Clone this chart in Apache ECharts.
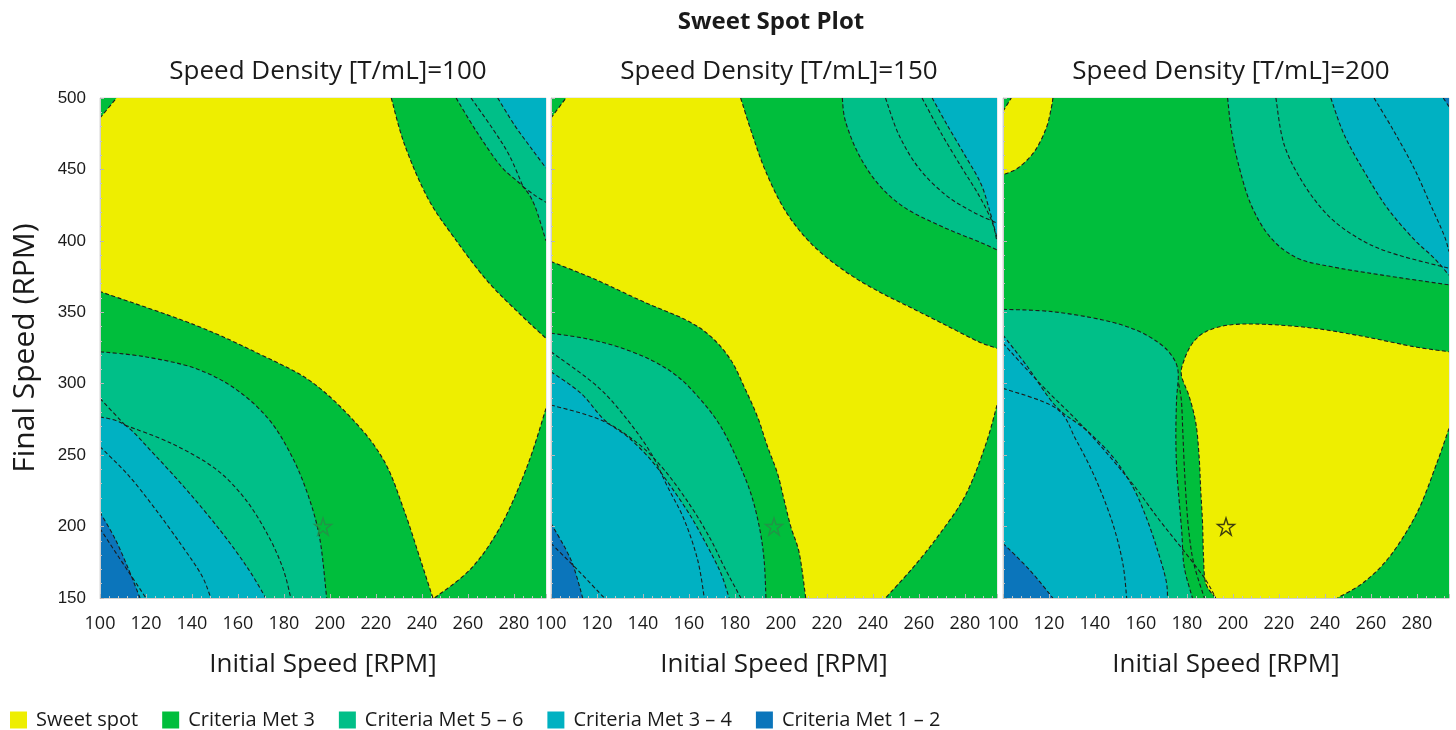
<!DOCTYPE html>
<html>
<head>
<meta charset="utf-8">
<title>Sweet Spot Plot</title>
<script src="https://cdn.jsdelivr.net/npm/echarts@6.0.0/dist/echarts.min.js"></script>
<style>
  html, body { margin: 0; padding: 0; background: #fff; }
  #chart { width: 1456px; height: 730px; }
</style>
</head>
<body>
<div id="chart"></div>
<script>
// axis ranges
const X_MIN = 100, X_MAX = 294, Y_MIN = 150, Y_MAX = 500;
const densities = [100, 150, 200];
const starPoint = [197, 200];

// each region = list of boundary pieces [x, y]; pieces with 2+ points are smooth contour runs,
// consecutive pieces are joined by straight edges along the plot border
const fullDomain = [[[100, 150]], [[100, 500]], [[294, 500]], [[294, 150]]];

// Speed Density = 100
const sweet100 = [[
  [[100, 486], [107.2, 500]],
  [[226.7, 500], [232.5, 467.3], [242.6, 429.9], [254.2, 401.9], [268.7, 371.5], [283.1, 348.1], [294, 331.8]],
  [[294, 282.7], [286, 243], [274.5, 200.9], [261.4, 170.6], [245.5, 150]],
  [[244.8, 150], [239.7, 175.2], [232.5, 210.3], [223.8, 245.3], [210.8, 273.4], [191.9, 301.4], [170.2, 320.1], [141.3, 341.1], [100, 364.5]]
]];
const met56_100 = [
  [[[254.9, 500], [264, 476], [274.5, 452], [284, 438], [289, 425], [294, 400]], [[294, 500]]],
  [[[100, 322.4], [119.5, 318.9], [141.3, 310.8], [158.6, 296.7], [173.1, 275.7], [183.2, 250], [190.5, 222], [195.6, 191.6], [198.6, 150]], [[100, 150]]]
];
const met34_100 = [
  [[[273, 500], [280.3, 481], [287.5, 465], [294, 451]], [[294, 500]]],
  [[[100, 276.9], [110.9, 271], [123.9, 250], [138.4, 224.3], [152.8, 196.3], [164.4, 170.6], [172.1, 150]], [[100, 150]]]
];
const met12_100 = [
  [[[100, 210], [106.5, 191.6], [112.3, 170.6], [117.4, 150]], [[100, 150]]]
];
const lines100 = [
  [[284, 438], [289, 432], [294, 427]],
  [[261.4, 500], [271, 478], [278, 460], [284, 438]],
  [[110.9, 271], [131.1, 258.2], [150, 240.7], [163, 219.6], [173.1, 193.9], [179.6, 170.6], [183, 150]],
  [[100, 289.7], [110.9, 271]],
  [[100, 255.9], [112.3, 236], [123.9, 212.6], [135.5, 186.9], [144.2, 165.9], [148.2, 150]],
  [[100, 198.6], [108, 179], [120, 150]]
];

// Speed Density = 150
const sweet150 = [[
  [[100, 486], [106.5, 500]],
  [[182.5, 500], [187.6, 474.3], [193.4, 448.6], [202.1, 420.6], [213.7, 397.2], [228.1, 378.5], [242.6, 364.5], [257.1, 352.8], [271.6, 341.1], [286, 329.4], [294, 324.8]],
  [[294, 285], [289, 257], [280.3, 222], [268.7, 194], [257.1, 170.6], [245.5, 150]],
  [[210.8, 150], [208, 181.3], [204.3, 199.9], [201.4, 218.6], [198.5, 237.3], [194.2, 255.9], [189.8, 276.9], [184, 297.9], [178.2, 316.6], [169.6, 332.9], [158.7, 344.6], [140, 357.5], [120, 372.5], [100, 385.5]]
]];
const met56_150 = [
  [[[226.7, 500], [228.1, 483.6], [233.9, 460.3], [242.6, 439.3], [254.2, 422.9], [271.6, 408.9], [286, 399.5], [294, 393.7]], [[294, 500]]],
  [[[100, 335.3], [114.5, 331.8], [129, 325.9], [143.5, 316.6], [155.1, 305], [165.2, 288.6], [173.9, 269.9], [181.1, 246.6], [186.9, 223.3], [190.6, 199.9], [192.7, 176.6], [193.5, 150]], [[100, 150]]]
];
const met34_150 = [
  [[[265.8, 500], [272, 482], [280, 460], [287, 440], [291, 420], [294, 402]], [[294, 500]]],
  [[[100, 308.4], [113, 293.3], [123.2, 274.6], [133.3, 262.9], [143.5, 246.6], [152.2, 227.9], [160.9, 206.9], [168.1, 186], [173.9, 167.3], [177.5, 150]], [[100, 150]]]
];
const met12_150 = [
  [[[100, 202.3], [108.7, 176.6], [113.8, 150]], [[100, 150]]]
];
const lines150 = [
  [[245.5, 500], [251.3, 474.3], [260, 450.9], [271.6, 432.2], [283.1, 420.6], [294, 412.4]],
  [[261.4, 500], [270.1, 474.3], [278.8, 450.9], [286, 432.2], [291.8, 413.6], [294, 399.5]],
  [[100, 322.4], [120.3, 297.9], [133.3, 274.6], [143.5, 251.3], [150.7, 227.9], [158, 204.6], [163.8, 176.6], [166.7, 150]],
  [[100, 285.1], [121.7, 274.6], [137.7, 258.3], [149.3, 239.6], [160.9, 214], [169.6, 190.6], [175.3, 171.9], [182.6, 150]],
  [[100, 188.3], [111.6, 169.6], [123.2, 150]]
];

// Speed Density = 200
const sweet200 = [
  [[[100, 490.7], [103.6, 500]], [[121.7, 500], [121, 493], [118.8, 478.9], [113.7, 462.6], [106.5, 451], [100, 446.3]]],
  [
    [[192.5, 150], [188.2, 160.3], [187.2, 179], [186.8, 202.3], [186, 225.6], [185.3, 249], [183.9, 272.3], [181, 291], [177.6, 306], [178.8, 316.6], [182.4, 328.3], [188.2, 336.4], [198.3, 341.1], [213.7, 341.6], [235.4, 338.8], [257.1, 333], [278.8, 325.9], [294, 322.4]],
    [[294, 268.7], [288.9, 245.3], [280.3, 210.3], [268.7, 180], [257.1, 161.2], [245.5, 150]]
  ]
];
const met56_200 = [
  [[[197.7, 500], [199.2, 479], [202.1, 455.6], [207.9, 425.2], [216.6, 401.9], [228.1, 387.9], [242.6, 382], [264.3, 376.2], [294, 369.2]], [[294, 500]]],
  [[[100, 352.1], [121.7, 350.4], [143.4, 344.6], [157.8, 337.6], [168, 328.3], [173.7, 318.9], [176.2, 308], [175.5, 288.6], [175.2, 265.3], [175.5, 242], [176.6, 218.6], [177.8, 195.3], [178.8, 171.9], [182.4, 150]], [[100, 150]]]
];
const met34_200 = [
  [[[242.6, 500], [248.4, 474.3], [257.1, 448.6], [267.2, 422.9], [278.8, 401], [287.5, 388], [294, 376]], [[294, 500]]],
  [[[100, 334.1], [110.1, 313.1], [123.1, 284], [136.2, 267.6], [147.7, 248.9], [156.4, 227.9], [162.2, 206.9], [167.2, 183.6], [170.9, 162.6], [171.6, 150]], [[100, 150]]]
];
const met12_200 = [
  [[[100, 188.3], [111.6, 169.6], [121.7, 150]], [[100, 150]]],
  [[[291.5, 500], [294, 494]], [[294, 500]]]
];
const lines200 = [
  [[218.7, 500], [222.3, 467.3], [231, 439.3], [242.6, 415.9], [257.1, 399.5], [271.6, 390.2], [294, 380.8]],
  [[261.4, 500], [270.1, 476.6], [278.8, 450.9], [286, 425.2], [291.8, 404.2], [294, 392.5]],
  [[176.4, 300], [177.6, 288], [178.2, 267], [178.8, 244], [179.6, 221], [180.8, 197], [183, 174], [187.6, 150]],
  [[100, 328.3], [117.4, 297.9], [136.2, 267.6], [155, 232.6], [168, 204.6], [179.5, 181.3], [188.2, 162.6], [192.5, 150]],
  [[100, 296.8], [123.1, 282.8], [131.8, 260.6], [140.5, 232.6], [147.7, 202.3], [152.1, 174.3], [153.8, 150]]
];

const panels = [
  { sweet: sweet100, met56: met56_100, met34: met34_100, met12: met12_100, lines: lines100, star: '#2b8a4a' },
  { sweet: sweet150, met56: met56_150, met34: met34_150, met12: met12_150, lines: lines150, star: '#2b8a4a' },
  { sweet: sweet200, met56: met56_200, met34: met34_200, met12: met12_200, lines: lines200, star: '#111' }
];

const palette = { sweet: '#EEEE00', met3: '#00BE3C', met56: '#00BF88', met34: '#00B1C2', met12: '#0B75BB' };
const layerNames = [
  ['met3', 'Criteria Met 3'],
  ['met56', 'Criteria Met 5 – 6'],
  ['met34', 'Criteria Met 3 – 4'],
  ['met12', 'Criteria Met 1 – 2'],
  ['sweet', 'Sweet spot']
];
const legendOrder = ['Sweet spot', 'Criteria Met 3', 'Criteria Met 5 – 6', 'Criteria Met 3 – 4', 'Criteria Met 1 – 2'];

const FONT = 'Open Sans';
const gridLefts = [100, 551, 1003];
const GRID_W = 446;

var chart = echarts.init(document.getElementById('chart'));

// smooth path through data points (catmull-rom), pieces joined by straight edges
function curvePath(pieces, api, closed) {
  var d = '';
  pieces.forEach(function (piece, k) {
    var pts = piece.map(function (p) { return api.coord(p); });
    d += (k ? 'L' : 'M') + pts[0][0].toFixed(2) + ',' + pts[0][1].toFixed(2);
    for (var i = 0; i < pts.length - 1; i++) {
      var a = pts[i - 1] || pts[i], b = pts[i], c = pts[i + 1], e = pts[i + 2] || c;
      d += 'C' + [
        b[0] + (c[0] - a[0]) / 6, b[1] + (c[1] - a[1]) / 6,
        c[0] - (e[0] - b[0]) / 6, c[1] - (e[1] - b[1]) / 6,
        c[0], c[1]
      ].map(function (v) { return v.toFixed(2); }).join(',');
    }
  });
  return closed ? d + 'Z' : d;
}

function regionSeries(name, color, regions, gi, z) {
  return {
    name: name,
    type: 'custom',
    xAxisIndex: gi,
    yAxisIndex: gi,
    z: z,
    silent: true,
    clip: true,
    itemStyle: { color: color },
    data: regions.map(function (r) { return r[0][0]; }),
    renderItem: function (params, api) {
      return {
        type: 'path',
        shape: { pathData: curvePath(regions[params.dataIndex], api, true) },
        style: { fill: color, stroke: null }
      };
    }
  };
}

function contourSeries(contours, gi) {
  return {
    type: 'custom',
    xAxisIndex: gi,
    yAxisIndex: gi,
    z: 8,
    silent: true,
    clip: true,
    data: contours.map(function (c) { return c[0]; }),
    renderItem: function (params, api) {
      return {
        type: 'path',
        shape: { pathData: curvePath([contours[params.dataIndex]], api, false) },
        style: { fill: 'none', stroke: '#1c1c1c', lineWidth: 1.1, lineDash: [4, 2.5] }
      };
    }
  };
}

var series = [];
panels.forEach(function (p, gi) {
  layerNames.forEach(function (ln, li) {
    var regions = ln[0] === 'met3' ? [fullDomain] : p[ln[0]];
    series.push(regionSeries(ln[1], palette[ln[0]], regions, gi, 2 + li));
  });
  var contours = p.lines.slice();
  ['sweet', 'met56', 'met34', 'met12'].forEach(function (k) {
    p[k].forEach(function (r) {
      r.forEach(function (piece) { if (piece.length > 1) contours.push(piece); });
    });
  });
  series.push(contourSeries(contours, gi));
  series.push({
    type: 'scatter',
    xAxisIndex: gi,
    yAxisIndex: gi,
    z: 9,
    silent: true,
    symbol: 'path://M50,2 L61.5,37 L98,37 L68.5,58.5 L79.5,94 L50,72 L20.5,94 L31.5,58.5 L2,37 L38.5,37 Z',
    symbolSize: 17,
    itemStyle: { color: 'rgba(0,0,0,0)', borderColor: p.star, borderWidth: 1.4 },
    data: [starPoint]
  });
});

var titles = [{
  text: 'Sweet Spot Plot',
  left: 766, top: 5, textAlign: 'center',
  textStyle: { fontFamily: FONT, fontSize: 24, fontWeight: 'bold', color: '#1a1a1a' }
}];
densities.forEach(function (d, i) {
  titles.push({
    text: 'Speed Density [T/mL]=' + d,
    left: gridLefts[i] + GRID_W / 2, top: 54, textAlign: 'center',
    textStyle: { fontFamily: FONT, fontSize: 26, fontWeight: 'normal', color: '#1a1a1a' }
  });
});

var option = {
  backgroundColor: '#fff',
  animation: false,
  title: titles,
  legend: {
    data: legendOrder,
    left: 5, top: 705,
    icon: 'rect',
    itemWidth: 17, itemHeight: 17, itemGap: 24,
    selectedMode: false,
    textStyle: { fontFamily: FONT, fontSize: 20, color: '#1a1a1a', padding: [0, 0, 0, 4] }
  },
  grid: gridLefts.map(function (l) {
    return { left: l, top: 98, width: GRID_W, height: 500, show: true, borderColor: '#d6d6d6', borderWidth: 1 };
  }),
  xAxis: gridLefts.map(function (l, i) {
    return {
      gridIndex: i, type: 'value', min: X_MIN, max: X_MAX, interval: 20, z: 10,
      name: 'Initial Speed [RPM]', nameLocation: 'middle', nameGap: 54,
      nameTextStyle: { fontFamily: FONT, fontSize: 26, color: '#1a1a1a' },
      axisLine: { show: true, lineStyle: { color: '#cfcfcf' } },
      axisTick: { show: true, inside: true, length: 4, lineStyle: { color: '#b8b8b8' } },
      minorTick: { show: true, splitNumber: 5, length: 2, lineStyle: { color: '#c4c4c4' } },
      splitLine: { show: false },
      axisLabel: { fontFamily: FONT, fontSize: 18, color: '#1a1a1a', margin: 17, showMinLabel: true, showMaxLabel: false }
    };
  }),
  yAxis: gridLefts.map(function (l, i) {
    return {
      gridIndex: i, type: 'value', min: Y_MIN, max: Y_MAX, interval: 50, z: 10,
      name: i === 0 ? 'Final Speed (RPM)' : '', nameLocation: 'middle', nameGap: 60,
      nameTextStyle: { fontFamily: FONT, fontSize: 30, color: '#1a1a1a' },
      axisLine: { show: true, lineStyle: { color: '#cfcfcf' } },
      axisTick: { show: true, inside: true, length: 4, lineStyle: { color: '#b8b8b8' } },
      minorTick: { show: true, splitNumber: 5, length: 2, lineStyle: { color: '#c4c4c4' } },
      splitLine: { show: false },
      axisLabel: { show: i === 0, fontFamily: 'Liberation Sans', fontSize: 17, color: '#1a1a1a', margin: 14 }
    };
  }),
  series: series
};

chart.setOption(option);
</script>
</body>
</html>
